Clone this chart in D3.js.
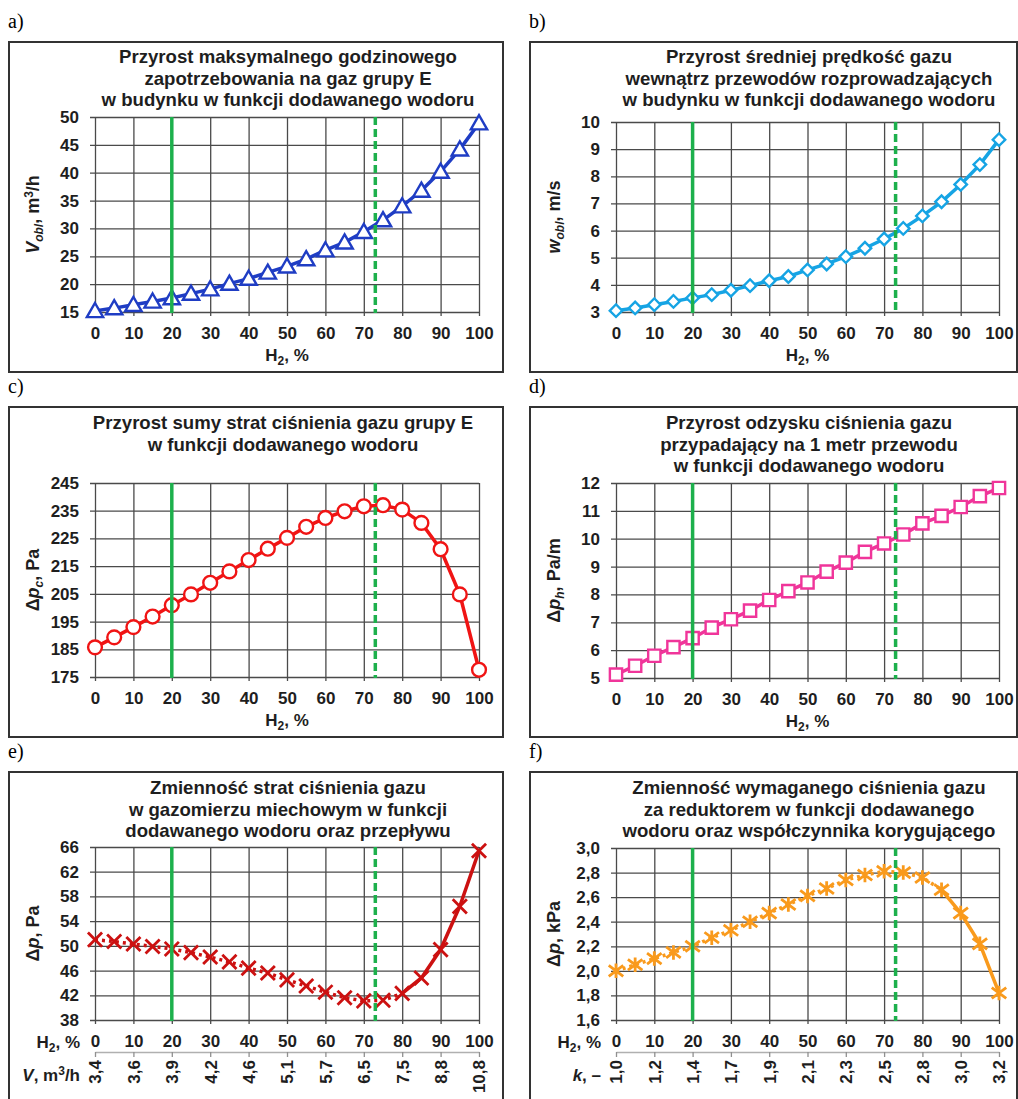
<!DOCTYPE html>
<html>
<head>
<meta charset="utf-8">
<script src="https://cdn.jsdelivr.net/npm/d3@7"></script>
<style>
body { margin: 0; background: #fff; }
svg text { font-family: "Liberation Sans", Arial, sans-serif; font-weight: bold; fill: #1e1e1e; }
svg text.plabel { font-family: "Liberation Serif", "Times New Roman", serif; font-weight: normal; fill: #000; }
</style>
</head>
<body>
<svg id="chart" width="1018" height="1099"></svg>
<script>
// hydrogen share in the gas, %
var H2 = [0,5,10,15,20,25,30,35,40,45,50,55,60,65,70,75,80,85,90,95,100];

var V_OBL    = [15.2,15.7,16.3,16.9,17.5,18.3,19.1,20.1,21.0,22.1,23.2,24.5,26.1,27.5,29.4,31.5,34.0,36.8,40.2,44.2,48.9];
var W_OBL    = [3.05,3.15,3.27,3.39,3.52,3.64,3.80,3.97,4.15,4.31,4.55,4.77,5.04,5.35,5.69,6.08,6.54,7.06,7.70,8.43,9.35];
var DP_C     = [185.7,189.3,193.0,196.8,200.9,204.8,209.0,213.1,217.2,221.3,225.2,229.2,232.4,234.8,236.6,237.0,235.4,230.6,221.1,204.8,177.6];
var DP_H     = [5.12,5.44,5.80,6.11,6.43,6.81,7.11,7.42,7.80,8.12,8.43,8.82,9.14,9.53,9.83,10.15,10.55,10.82,11.14,11.53,11.82];
var DP_METER = [51.0,50.7,50.3,49.9,49.5,48.9,48.2,47.4,46.4,45.6,44.5,43.5,42.5,41.6,41.1,41.2,42.3,44.8,49.4,56.4,65.4];
var DP_REG   = [2.00,2.05,2.10,2.15,2.20,2.27,2.33,2.40,2.47,2.54,2.61,2.67,2.74,2.78,2.81,2.80,2.76,2.66,2.47,2.22,1.82];

var H2_TICKS = [0,10,20,30,40,50,60,70,80,90,100];
var V_TICKS  = ["3,4","3,6","3,9","4,2","4,6","5,1","5,7","6,5","7,5","8,8","10,8"];
var K_TICKS  = ["1,0","1,2","1,4","1,7","1,9","2,1","2,3","2,5","2,8","3,0","3,2"];

var Y_TICKS_A = [15,20,25,30,35,40,45,50];
var Y_TICKS_B = [3,4,5,6,7,8,9,10];
var Y_TICKS_C = [175,185,195,205,215,225,235,245];
var Y_TICKS_D = [5,6,7,8,9,10,11,12];
var Y_TICKS_E = [38,42,46,50,54,58,62,66];
var Y_TICKS_F = [1.6,1.8,2.0,2.2,2.4,2.6,2.8,3.0];

// vertical reference lines: solid at 20 %, dashed at 73 %
var H2_LIMITS = [20, 73];

var TITLE_A = ["Przyrost maksymalnego godzinowego", "zapotrzebowania na gaz grupy E", "w budynku w funkcji dodawanego wodoru"];
var TITLE_B = ["Przyrost średniej prędkość gazu", "wewnątrz przewodów rozprowadzających", "w budynku w funkcji dodawanego wodoru"];
var TITLE_C = ["Przyrost sumy strat ciśnienia gazu grupy E", "w funkcji dodawanego wodoru"];
var TITLE_D = ["Przyrost odzysku ciśnienia gazu", "przypadający na 1 metr przewodu", "w funkcji dodawanego wodoru"];
var TITLE_E = ["Zmienność strat ciśnienia gazu", "w gazomierzu miechowym w funkcji", "dodawanego wodoru oraz przepływu"];
var TITLE_F = ["Zmienność wymaganego ciśnienia gazu", "za reduktorem w funkcji dodawanego", "wodoru oraz współczynnika korygującego"];

var svg = d3.select("#chart");

// stroke-only marker shapes
var symX = { draw: function(ctx, size) {
  var r = Math.sqrt(size) / 2;
  ctx.moveTo(-r, -r); ctx.lineTo(r, r);
  ctx.moveTo(r, -r); ctx.lineTo(-r, r);
}};
var symStar = { draw: function(ctx, size) {
  var r = Math.sqrt(size) / 2;
  ctx.moveTo(-r, -r * 0.75); ctx.lineTo(r, r * 0.75);
  ctx.moveTo(r, -r * 0.75); ctx.lineTo(-r, r * 0.75);
  ctx.moveTo(0, -r); ctx.lineTo(0, r);
}};

var commaFmt = function(d) { return d3.format(".1f")(d).replace(".", ","); };

function rich(t, parts) {
  var shift = 0;
  parts.forEach(function(pt) {
    var s = t.append("tspan").text(pt.t);
    var target = pt.sub ? 4 : (pt.sup ? -6 : 0);
    if (target !== shift) { s.attr("dy", target - shift); shift = target; }
    if (pt.sub || pt.sup) s.attr("font-size", 12);
    if (pt.i) s.attr("font-style", "italic");
  });
}

var H2_LABEL = [{t:"H"},{t:"2",sub:1},{t:", %"}];

var panels = [
  { name:"a)", box:[9,42,503,372], plot:[95,479,117,312], titleX:288, titleY:63, title:TITLE_A,
    domain:[15,50], yTicks:Y_TICKS_A, values:V_OBL, color:"#1f3dc4", marker:"triangle",
    yLabel:[{t:"V",i:1},{t:"obl",i:1,sub:1},{t:", m"},{t:"3",sup:1},{t:"/h"}] },
  { name:"b)", box:[530,42,1017,372], plot:[616,999,122,312], titleX:809, titleY:63, title:TITLE_B,
    domain:[3,10], yTicks:Y_TICKS_B, values:W_OBL, color:"#16a4e4", marker:"diamond",
    yLabel:[{t:"w",i:1},{t:"obl",i:1,sub:1},{t:", m/s"}] },
  { name:"c)", box:[9,407,503,737], plot:[95,479,483,677], titleX:283, titleY:429, title:TITLE_C,
    domain:[175,245], yTicks:Y_TICKS_C, values:DP_C, color:"#f01414", marker:"circle",
    yLabel:[{t:"Δ"},{t:"p",i:1},{t:"c",i:1,sub:1},{t:", Pa"}] },
  { name:"d)", box:[530,407,1017,737], plot:[616,999,483,678], titleX:809, titleY:429, title:TITLE_D,
    domain:[5,12], yTicks:Y_TICKS_D, values:DP_H, color:"#f0359a", marker:"square",
    yLabel:[{t:"Δ"},{t:"p",i:1},{t:"h",i:1,sub:1},{t:", Pa/m"}] },
  { name:"e)", box:[9,772,503,1110], plot:[95,479,847,1020], titleX:288, titleY:794, title:TITLE_E,
    domain:[38,66], yTicks:Y_TICKS_E, values:DP_METER, color:"#cc1111", marker:"x", dottedTo:80,
    yLabel:[{t:"Δ"},{t:"p",i:1},{t:", Pa"}],
    second:{ ticks:V_TICKS, label:[{t:"V",i:1},{t:", m"},{t:"3",sup:1},{t:"/h"}] } },
  { name:"f)", box:[530,772,1017,1110], plot:[616,999,848,1020], titleX:809, titleY:794, title:TITLE_F,
    domain:[1.6,3.0], yTicks:Y_TICKS_F, yFmt:commaFmt, values:DP_REG, color:"#f99a1c", marker:"star", dottedTo:85,
    yLabel:[{t:"Δ"},{t:"p",i:1},{t:", kPa"}],
    second:{ ticks:K_TICKS, label:[{t:"k",i:1},{t:", –"}] } }
];

function drawPanel(p) {
  var g = svg.append("g");
  var x0 = p.plot[0], x1 = p.plot[1], top = p.plot[2], bottom = p.plot[3];
  var w = x1 - x0, h = bottom - top;

  g.append("rect")
    .attr("x", p.box[0]).attr("y", p.box[1])
    .attr("width", p.box[2] - p.box[0]).attr("height", p.box[3] - p.box[1])
    .attr("fill", "none").attr("stroke", "#333").attr("stroke-width", 2);

  g.append("text").attr("class", "plabel")
    .attr("x", p.box[0] - 1).attr("y", p.box[1] - 14)
    .attr("font-size", 20).text(p.name);

  g.selectAll("text.title").data(p.title).enter().append("text")
    .attr("class", "title")
    .attr("x", p.titleX).attr("y", function(d, i) { return p.titleY + i * 21.5; })
    .attr("text-anchor", "middle").attr("font-size", 18.6)
    .text(function(d) { return d; });

  var x = d3.scaleLinear().domain([0, 100]).range([x0, x1]);
  var y = d3.scaleLinear().domain(p.domain).range([bottom, top]);

  // horizontal grid with y labels
  var yAx = g.append("g").attr("transform", "translate(" + (x0 - 5) + ",0)")
    .call(d3.axisLeft(y).tickValues(p.yTicks).tickSize(-(w + 5)).tickPadding(11)
      .tickFormat(p.yFmt || d3.format("d")));
  yAx.select(".domain").remove();
  yAx.selectAll("line").attr("stroke", "#4a4a4a").attr("stroke-width", 1.3);
  yAx.selectAll("text").attr("font-size", 17);

  // vertical grid with H2 labels
  var xAx = g.append("g").attr("transform", "translate(0," + (bottom + 4) + ")")
    .call(d3.axisBottom(x).tickValues(H2_TICKS).tickSize(-(h + 4)).tickPadding(11));
  xAx.select(".domain").remove();
  xAx.selectAll("line").attr("stroke", "#4a4a4a").attr("stroke-width", 1.3);
  xAx.selectAll("text").attr("font-size", 17);

  // y axis title
  var yt = g.append("text")
    .attr("transform", "translate(" + (x0 - 62) + "," + ((top + bottom) / 2) + ") rotate(-90)")
    .attr("text-anchor", "middle").attr("dy", "0.35em").attr("font-size", 18);
  rich(yt, p.yLabel);

  if (!p.second) {
    var xt = g.append("text").attr("x", (x0 + x1) / 2).attr("y", bottom + 49)
      .attr("text-anchor", "middle").attr("font-size", 17);
    rich(xt, H2_LABEL);
  } else {
    var xt2 = g.append("text").attr("x", x0 - 15).attr("y", bottom + 28)
      .attr("text-anchor", "end").attr("font-size", 17);
    rich(xt2, H2_LABEL);

    var sAx = g.append("g").attr("transform", "translate(0," + (bottom + 32) + ")")
      .call(d3.axisBottom(x).tickValues(H2_TICKS).tickSize(5).tickSizeOuter(0)
        .tickFormat(function(d, i) { return p.second.ticks[i]; }));
    sAx.select(".domain").attr("stroke", "#b0b0b0").attr("stroke-width", 1.5);
    sAx.selectAll("line").attr("stroke", "#909090").attr("stroke-width", 1.3);
    sAx.selectAll("text").attr("font-size", 17)
      .attr("transform", "rotate(-90)").attr("text-anchor", "end")
      .attr("x", -8).attr("y", 0).attr("dy", "0.35em");

    var st = g.append("text").attr("x", x0 - 15).attr("y", bottom + 61)
      .attr("text-anchor", "end").attr("font-size", 17);
    rich(st, p.second.label);
  }

  // series line
  var pts = H2.map(function(d, i) { return [d, p.values[i]]; });
  var line = d3.line().x(function(d) { return x(d[0]); }).y(function(d) { return y(d[1]); });
  if (p.dottedTo) {
    g.append("path").attr("d", line(pts.filter(function(d) { return d[0] <= p.dottedTo; })))
      .attr("fill", "none").attr("stroke", p.color).attr("stroke-width", 3.5)
      .attr("stroke-dasharray", "3,4");
    g.append("path").attr("d", line(pts.filter(function(d) { return d[0] >= p.dottedTo; })))
      .attr("fill", "none").attr("stroke", p.color).attr("stroke-width", 3.5);
  } else {
    g.append("path").attr("d", line(pts))
      .attr("fill", "none").attr("stroke", p.color).attr("stroke-width", 3.5);
  }

  // markers
  var sym;
  if (p.marker === "triangle") sym = d3.symbol().type(d3.symbolTriangle).size(115);
  else if (p.marker === "diamond") sym = d3.symbol().type(d3.symbolSquare).size(78);
  else if (p.marker === "circle") sym = d3.symbol().type(d3.symbolCircle).size(150);
  else if (p.marker === "square") sym = d3.symbol().type(d3.symbolSquare).size(150);
  else if (p.marker === "x") sym = d3.symbol().type(symX).size(200);
  else sym = d3.symbol().type(symStar).size(210);

  var stroked = p.marker === "x" || p.marker === "star";
  g.selectAll("path.mark").data(pts).enter().append("path")
    .attr("class", "mark")
    .attr("d", sym)
    .attr("transform", function(d) {
      var t = "translate(" + x(d[0]) + "," + y(d[1]) + ")";
      if (p.marker === "triangle") t += " translate(0,1.5)";
      if (p.marker === "diamond") t += " rotate(45)";
      return t;
    })
    .attr("fill", stroked ? "none" : "#fff")
    .attr("stroke", p.color).attr("stroke-width", stroked ? 2.8 : 2.4);

  // hydrogen limits
  g.selectAll("line.limit").data(H2_LIMITS).enter().append("line")
    .attr("class", "limit")
    .attr("x1", function(d) { return x(d); }).attr("x2", function(d) { return x(d); })
    .attr("y1", top).attr("y2", bottom + 1)
    .attr("stroke", "#1db04c").attr("stroke-width", 3.5)
    .attr("stroke-dasharray", function(d, i) { return i === 0 ? null : "8,4"; });
}

panels.forEach(drawPanel);
</script>
</body>
</html>
